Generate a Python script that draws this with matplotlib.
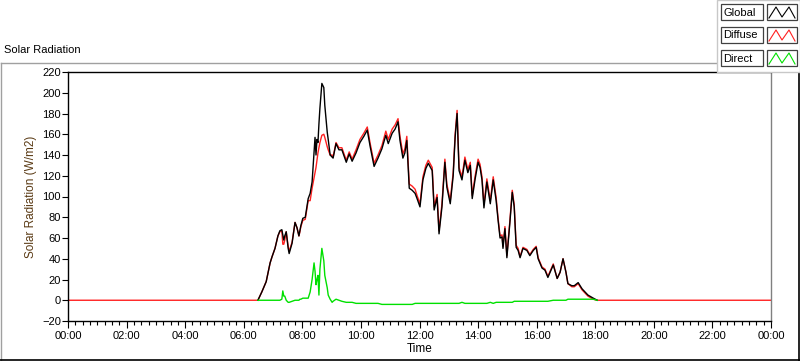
import numpy as np
import matplotlib
matplotlib.use("Agg")
import matplotlib.pyplot as plt
from matplotlib.lines import Line2D
from matplotlib.patches import Rectangle
from matplotlib.ticker import MultipleLocator, FuncFormatter

plt.rcParams['font.family'] = ['Liberation Sans', 'DejaVu Sans']

nan = np.nan

times = ["00:00",
         "06:29", "06:37", "06:46", "06:54", "06:58", "07:04", "07:10", "07:14", "07:18", "07:20",
         "07:22", "07:24", "07:27", "07:31", "07:33", "07:39", "07:45", "07:49", "07:53", "07:55",
         "07:57", "08:01", "08:06", "08:12", "08:16", "08:20", "08:24", "08:26", "08:28", "08:30",
         "08:32", "08:34", "08:36", "08:40", "08:44", "08:46", "08:51", "08:53", "08:57", "09:01",
         "09:03", "09:09", "09:15", "09:21", "09:30", "09:36", "09:42", "09:50", "09:58", "10:06",
         "10:13", "10:19", "10:27", "10:35", "10:43", "10:51", "10:56", "11:04", "11:10", "11:16",
         "11:20", "11:26", "11:30", "11:34", "11:39", "11:45", "11:51", "11:55", "12:01", "12:07",
         "12:13", "12:18", "12:26", "12:30", "12:36", "12:40", "12:46", "12:52", "12:56", "13:03",
         "13:09", "13:13", "13:17", "13:21", "13:27", "13:33", "13:39", "13:44", "13:48", "13:54",
         "14:00", "14:04", "14:08", "14:12", "14:18", "14:25", "14:31", "14:37", "14:41", "14:45",
         "14:49", "14:51", "14:55", "14:59", "15:05", "15:10", "15:14", "15:18", "15:22", "15:26",
         "15:32", "15:40", "15:46", "15:53", "15:59", "16:03", "16:11", "16:17", "16:23", "16:34",
         "16:42", "16:48", "16:54", "17:00", "17:04", "17:12", "17:17", "17:25", "17:33", "17:39",
         "17:45", "17:56", "18:04",
         "24:00"]

global_rad = [nan,
              0, 8, 18, 36, 42, 50, 62, 67, 68, 63,
              58, 62, 66, 50, 45, 55, 75, 70, 62, 67,
              72, 79, 80, 98, 103, 114, 142, 157, 140, 155,
              152, 170, 185, 209, 205, 188, 162, 155, 140, 138,
              137, 151, 145, 145, 133, 141, 134, 142, 152, 158,
              164, 148, 129, 137, 146, 159, 151, 161, 165, 172,
              154, 137, 142, 154, 108, 106, 103, 98, 90, 116,
              127, 132, 125, 87, 99, 64, 90, 133, 109, 93,
              120, 157, 180, 125, 116, 135, 123, 130, 98, 117,
              133, 128, 116, 89, 114, 93, 116, 96, 77, 60,
              61, 50, 69, 41, 74, 104, 90, 51, 48, 41,
              50, 48, 43, 48, 51, 40, 31, 29, 22, 34,
              21, 27, 40, 27, 16, 14, 14, 17, 11, 8,
              5, 2, 0,
              nan]

diffuse_rad = [0,
               0, 8, 18, 36, 42, 50, 62, 66, 67, 54,
               54, 58, 66, 52, 47, 56, 75, 70, 62, 66,
               71, 77, 78, 96, 96, 108, 118, 123, 128, 135,
               142, 147, 152, 159, 160, 157, 148, 145, 140, 140,
               138, 152, 147, 147, 135, 143, 136, 145, 155, 161,
               167, 151, 132, 140, 149, 163, 155, 165, 169, 175,
               158, 141, 146, 158, 112, 110, 107, 101, 93, 119,
               130, 135, 128, 90, 102, 67, 93, 136, 112, 96,
               123, 160, 183, 128, 119, 138, 126, 133, 101, 120,
               136, 131, 119, 92, 117, 96, 119, 99, 79, 62,
               63, 52, 71, 43, 76, 106, 92, 53, 50, 42,
               51, 49, 44, 49, 52, 41, 32, 30, 23, 35,
               21, 27, 40, 27, 16, 13, 13, 16, 10, 7,
               4, 1, 0,
               0]

direct_rad = [nan,
              0, 0, 0, 0, 0, 0, 0, 0, 1, 9,
              4, 4, 0, -2, -2, -1, 0, 0, 0, 1,
              1, 2, 2, 2, 8, 20, 36, 28, 15, 20,
              24, 5, 30, 50, 38, 24, 12, 5, 1, -2,
              -1, 1, 0, -1, -2, -2, -2, -3, -3, -3,
              -3, -3, -3, -3, -4, -4, -4, -4, -4, -4,
              -4, -4, -4, -4, -4, -4, -3, -3, -3, -3,
              -3, -3, -3, -3, -3, -3, -3, -3, -3, -3,
              -3, -3, -3, -3, -2, -3, -3, -3, -3, -3,
              -3, -3, -3, -3, -3, -2, -3, -2, -2, -2,
              -2, -2, -2, -2, -2, -2, -1, -1, -1, -1,
              -1, -1, -1, -1, -1, -1, -1, -1, -1, 0,
              0, 0, 0, 0, 1, 1, 1, 1, 1, 1,
              1, 1, 0,
              nan]

hours = [int(t[:2]) + int(t[3:]) / 60 for t in times]

W, H = 800, 361
fig = plt.figure(figsize=(W / 100, H / 100), dpi=100)
fig.patch.set_facecolor('white')

# outer panel frame
grey = '#a0a0a0'
fig.add_artist(Line2D([0.5 / W, 717 / W], [1 - 62.5 / H] * 2, color=grey, lw=1))
fig.add_artist(Line2D([0.5 / W] * 2, [1 - 62.5 / H, 0.5 / H], color=grey, lw=1))
fig.add_artist(Line2D([0, 1], [0.7 / H] * 2, color='black', lw=1.2))
fig.add_artist(Line2D([1 - 0.7 / W] * 2, [0, 1 - 72 / H], color='black', lw=1.2))

fig.text(4 / W, 1 - 50 / H, "Solar Radiation", fontsize=8, va='center', ha='left')

ax = fig.add_axes([68 / W, 1 - 321 / H, (771 - 68) / W, (321 - 72) / H])
ax.plot(hours, diffuse_rad, color='#ff2020', lw=1.0)
ax.plot(hours, global_rad, color='black', lw=1.0)
ax.plot(hours, direct_rad, color='#00e000', lw=1.0)

ax.set_xlim(0, 24)
ax.set_ylim(-20, 220)
ax.xaxis.set_major_locator(MultipleLocator(2))
ax.xaxis.set_minor_locator(MultipleLocator(0.25))
ax.yaxis.set_major_locator(MultipleLocator(20))
ax.xaxis.set_major_formatter(FuncFormatter(lambda v, p: f"{int(round(v)) % 24:02d}:00"))
ax.tick_params(axis='x', which='major', length=5, width=0.8, labelsize=8, pad=2)
ax.tick_params(axis='x', which='minor', length=3, width=0.8)
ax.tick_params(axis='y', which='major', length=4, width=0.8, labelsize=8, pad=1)
for s in ['left', 'top', 'bottom']:
    ax.spines[s].set_color('black')
    ax.spines[s].set_linewidth(1.0)
ax.spines['right'].set_color('#808080')
ax.spines['right'].set_linewidth(1.0)

ax.set_xlabel("Time", fontsize=8.5, labelpad=2)
ax.set_ylabel("Solar Radiation (W/m2)", fontsize=8.5, color='#5a3a14', labelpad=4)

# legend panel
fig.add_artist(Rectangle((717 / W, 1 - 72 / H), 83 / W, 72 / H, facecolor='white',
                         edgecolor='#c8c8c8', lw=1, zorder=5))
names = ["Global", "Diffuse", "Direct"]
colors = ['black', '#ff2020', '#00e000']
tops = [4, 27, 50]
for name, c, top in zip(names, colors, tops):
    fig.add_artist(Rectangle((721 / W, 1 - (top + 16) / H), 42 / W, 16 / H, facecolor='white',
                             edgecolor='#404040', lw=0.9, zorder=6))
    fig.text(723 / W, 1 - (top + 8.5) / H, name, fontsize=8, va='center', ha='left', zorder=7)
    fig.add_artist(Rectangle((767 / W, 1 - (top + 16) / H), 30 / W, 16 / H, facecolor='white',
                             edgecolor='#404040', lw=0.9, zorder=6))
    zx = np.array([769, 776, 782, 789, 795]) / W
    zy = 1 - (top + np.array([14, 3, 13, 3, 14])) / H
    fig.add_artist(Line2D(zx, zy, color=c, lw=0.8, zorder=7))

fig.savefig("out.png", dpi=100)
